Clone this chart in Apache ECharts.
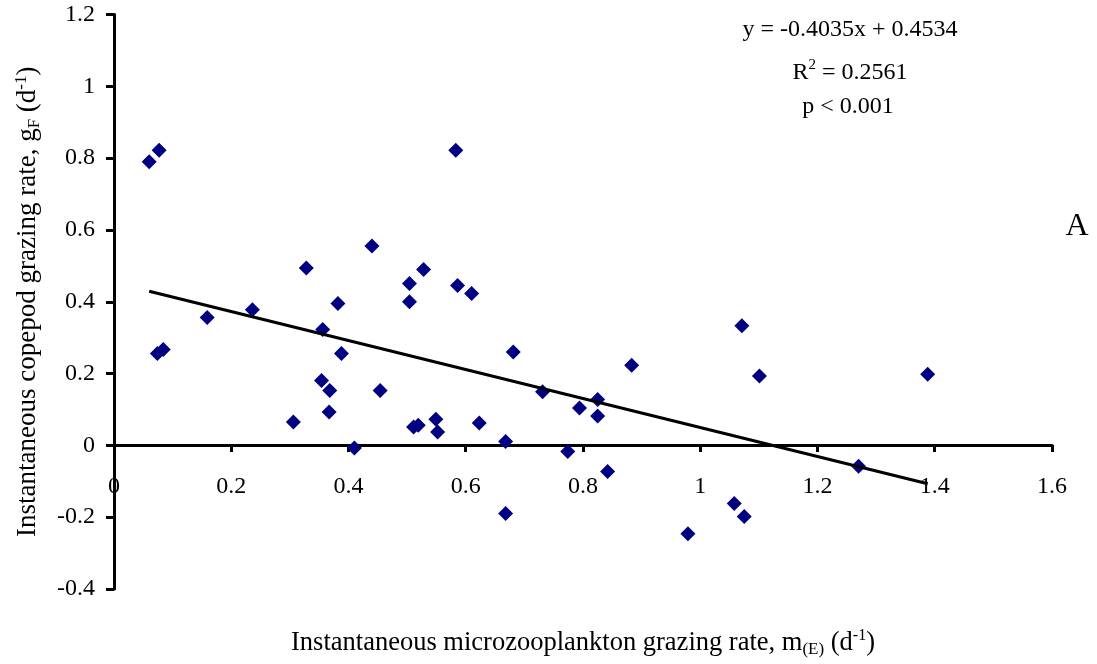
<!DOCTYPE html>
<html>
<head>
<meta charset="utf-8">
<script src="https://cdn.jsdelivr.net/npm/echarts@6/dist/echarts.min.js"></script>
<style>html,body{margin:0;padding:0;background:#fff}#c{width:1097px;height:664px}</style>
</head>
<body>
<div id="c"></div>
<script>
// Microzooplankton grazing rate m(E) (x) vs copepod grazing rate gF (y)
const xVals = [0.060, 0.077, 0.074, 0.084, 0.159, 0.236, 0.306, 0.328, 0.354, 0.356,
               0.367, 0.368, 0.382, 0.388, 0.410, 0.440, 0.454, 0.504, 0.504, 0.511,
               0.519, 0.528, 0.549, 0.552, 0.583, 0.586, 0.610, 0.623, 0.668, 0.668,
               0.681, 0.731, 0.774, 0.794, 0.825, 0.825, 0.842, 0.883, 0.979, 1.058,
               1.071, 1.075, 1.101, 1.270, 1.388];
const yVals = [0.790, 0.822, 0.256, 0.267, 0.356, 0.378, 0.065, 0.494, 0.181, 0.323,
               0.093, 0.153, 0.395, 0.256, -0.007, 0.555, 0.153, 0.451, 0.400, 0.051,
               0.056, 0.490, 0.073, 0.037, 0.822, 0.445, 0.423, 0.062, 0.011, -0.190,
               0.260, 0.149, -0.017, 0.104, 0.128, 0.082, -0.073, 0.223, -0.246, -0.162,
               0.333, -0.198, 0.193, -0.058, 0.198];
const slope = -0.4035;
const intercept = 0.4534;
const annotationLines = ['y = -0.4035x + 0.4534', 'R{sup|2} = 0.2561', 'p < 0.001'];
const panelLabel = 'A';

const points = xVals.map((x, i) => [x, yVals[i]]);
const xMin = Math.min(...xVals), xMax = Math.max(...xVals);
const trend = [[xMin, slope * xMin + intercept], [xMax, slope * xMax + intercept]];

const FONT = 'Liberation Serif';
function richFor(base) {
  return {
    sup: {fontFamily: FONT, fontSize: Math.round(base * 0.62), color: '#000', verticalAlign: 'top', lineHeight: 30},
    sub: {fontFamily: FONT, fontSize: Math.round(base * 0.66), color: '#000', verticalAlign: 'bottom', lineHeight: 30},
    subF: {fontFamily: FONT, fontSize: Math.round(base * 0.62), color: '#000', verticalAlign: 'bottom', lineHeight: 28}
  };
}

const chart = echarts.init(document.getElementById('c'), null, {renderer: 'canvas'});
chart.setOption({
  animation: false,
  backgroundColor: '#fff',
  grid: {left: 114, right: 45, top: 14.5, bottom: 75, containLabel: false, outerBoundsMode: 'none'},
  xAxis: {
    type: 'value', min: 0, max: 1.6, interval: 0.2,
    position: 'bottom', offset: -144,
    axisLine: {onZero: false, lineStyle: {color: '#000', width: 3}},
    axisTick: {show: true, length: 7, lineStyle: {color: '#000', width: 3}},
    axisLabel: {color: '#000', fontFamily: FONT, fontSize: 24, margin: 30},
    splitLine: {show: false},
    name: 'Instantaneous microzooplankton grazing rate, m{sub|(E)} (d{sup|-1})',
    nameLocation: 'middle', nameGap: 183,
    nameTextStyle: {color: '#000', fontFamily: FONT, fontSize: 26.5, lineHeight: 30, rich: richFor(26.5)}
  },
  yAxis: {
    type: 'value', min: -0.4, max: 1.2, interval: 0.2,
    axisLine: {onZero: false, lineStyle: {color: '#000', width: 3}},
    axisTick: {show: true, length: 8, lineStyle: {color: '#000', width: 3}},
    axisLabel: {color: '#000', fontFamily: FONT, fontSize: 24, margin: 19},
    splitLine: {show: false},
    name: 'Instantaneous copepod grazing rate, g{subF|F} (d{sup|-1})',
    nameLocation: 'middle', nameGap: 71, nameRotate: 90,
    nameTextStyle: {color: '#000', fontFamily: FONT, fontSize: 27, lineHeight: 30, rich: richFor(27)}
  },
  series: [
    {
      type: 'scatter', data: points, symbol: 'diamond', symbolSize: 15,
      itemStyle: {color: '#000080', opacity: 1}, z: 2
    },
    {
      type: 'line', data: trend, symbol: 'none', silent: true,
      lineStyle: {color: '#000', width: 3}, z: 3
    }
  ],
  graphic: [
    {type: 'text', position: [850, 30], style: {text: annotationLines[0], align: 'center', verticalAlign: 'middle', fill: '#000', fontFamily: FONT, fontSize: 24}},
    {type: 'text', position: [850, 73], style: {
      text: annotationLines[1], align: 'center', verticalAlign: 'middle', fill: '#000',
      fontFamily: FONT, fontSize: 24, lineHeight: 30,
      rich: {sup: {fontFamily: FONT, fontSize: 15, verticalAlign: 'top', lineHeight: 30, fill: '#000'}}
    }},
    {type: 'text', position: [848, 107], style: {text: annotationLines[2], align: 'center', verticalAlign: 'middle', fill: '#000', fontFamily: FONT, fontSize: 24}},
    {type: 'text', position: [1077, 227], style: {text: panelLabel, align: 'center', verticalAlign: 'middle', fill: '#000', fontFamily: FONT, fontSize: 32}}
  ]
});
</script>
</body>
</html>
